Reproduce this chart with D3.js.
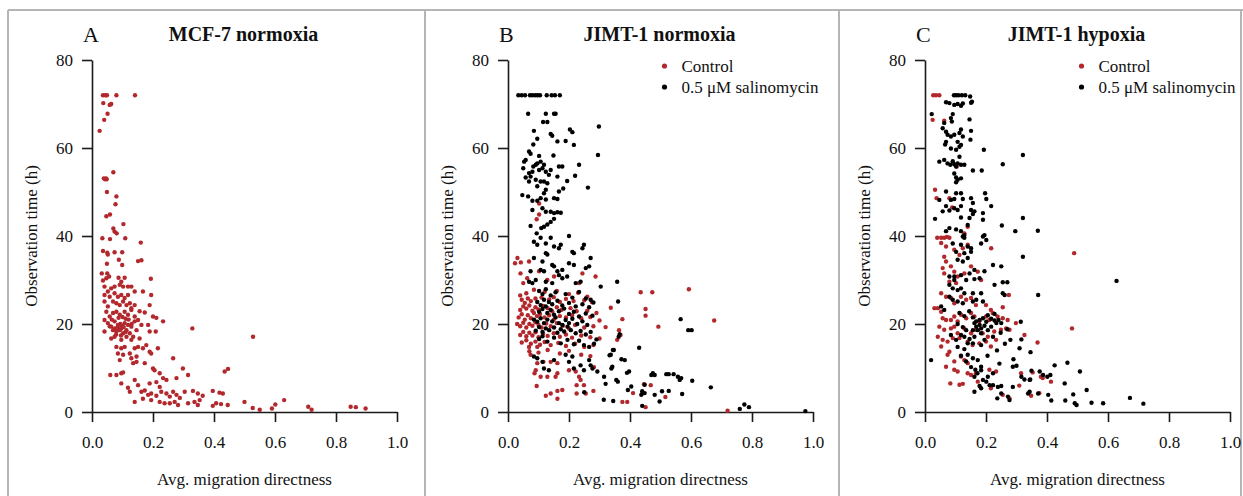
<!DOCTYPE html>
<html>
<head>
<meta charset="utf-8">
<script src="https://cdn.jsdelivr.net/npm/d3@7"></script>
<style>
  body { margin: 0; background: #fff; }
  svg text { font-family: "Liberation Serif", "Times New Roman", serif; fill: #111; }
</style>
</head>
<body>
<svg id="chart" width="1243" height="496"></svg>
<script>
/* ------------------------------------------------------------
   Observation time vs. migration directness, three panels
   ------------------------------------------------------------ */

const PANEL_LETTERS = ["A", "B", "C"];
const PANEL_TITLES = ["MCF-7 normoxia", "JIMT-1 normoxia", "JIMT-1 hypoxia"];
const LEGEND_LABELS = ["Control", "0.5 \u03bcM salinomycin"];
const X_TICKS = [0, 0.2, 0.4, 0.6, 0.8, 1.0];
const Y_TICKS = [0, 20, 40, 60, 80];
const X_LABEL = "Avg. migration directness";
const Y_LABEL = "Observation time (h)";

// [directness, hours]
const mcf7Control = [
  [0.036,72],[0.044,72],[0.049,72],[0.080,72],[0.141,72],
  [0.037,70.2],[0.058,69.8],[0.063,70],[0.051,67.8],[0.040,66.4],[0.025,63.9],
  [0.039,53.1],[0.043,52.9],[0.046,53.1],[0.048,52.9],[0.070,54.5],
  [0.049,50],[0.080,49],[0.077,47.2],[0.047,44.5],[0.059,44.9],[0.103,42.7],
  [0.070,41.7],[0.074,41],[0.081,40.6],[0.034,39.5],[0.059,39.3],[0.109,39.5],
  [0.160,38.5],[0.036,36.6],[0.050,36.2],[0.052,35.8],[0.074,36.3],[0.099,36.3],
  [0.088,34.6],[0.099,33.4],[0.049,33.7],[0.151,34.3],[0.162,34.5],
  [0.032,31.5],[0.050,31.5],[0.056,30.8],[0.036,29.9],[0.047,30.4],
  [0.087,30.5],[0.107,30.5],[0.096,29.6],[0.193,30.3],
  [0.041,28.5],[0.052,27.4],[0.063,28.1],[0.074,28.5],[0.091,28.9],[0.102,28.5],
  [0.118,28.5],[0.129,28.5],[0.140,27.4],[0.167,27.4],[0.194,26.6],
  [0.041,26.6],[0.058,26.2],[0.074,27.0],[0.085,26.2],[0.096,26.6],[0.107,25.9],[0.118,26.6],
  [0.041,25.1],[0.052,24.0],[0.069,25.1],[0.080,24.7],[0.091,24.3],[0.102,25.1],
  [0.113,24.3],[0.124,24.7],[0.129,23.6],[0.140,24.3],[0.189,24.3],
  [0.156,22.9],[0.173,22.6],[0.047,22.8],[0.058,21.7],[0.069,22.5],[0.080,22.8],
  [0.091,22.1],[0.107,22.8],[0.118,22.1],[0.129,23.2],[0.140,21.7],[0.200,21.7],
  [0.211,21.4],[0.233,20.6],
  [0.041,20.9],[0.052,20.2],[0.063,19.4],[0.074,20.6],[0.085,19.8],[0.096,19.0],
  [0.107,20.2],[0.113,18.6],[0.091,18.6],[0.102,17.9],[0.080,18.3],[0.069,18.6],
  [0.118,19.8],[0.129,19.4],[0.140,20.6],[0.151,20.9],[0.162,19.8],[0.146,18.6],
  [0.124,17.9],[0.135,17.1],[0.084,19.2],[0.093,20.0],[0.098,19.6],[0.089,18.9],
  [0.104,19.3],[0.110,21.2],[0.120,21.0],[0.130,20.0],[0.058,19.5],[0.065,21.0],
  [0.075,19.0],[0.087,21.4],[0.100,21.6],[0.079,17.6],[0.110,18.2],[0.095,17.4],
  [0.184,19.8],[0.189,18.3],[0.209,18.3],[0.041,18.3],[0.329,19.0],[0.528,17.1],
  [0.063,16.7],[0.074,17.1],[0.096,16.4],[0.113,17.1],[0.129,16.4],[0.156,16.7],
  [0.080,14.8],[0.096,14.5],[0.107,14.8],[0.140,14.5],[0.151,14.8],[0.167,14.5],
  [0.178,15.2],[0.216,14.5],
  [0.085,13.3],[0.102,13.0],[0.124,13.3],[0.146,12.6],[0.189,13.7],[0.194,13.3],
  [0.091,11.8],[0.129,12.2],[0.135,11.1],[0.146,11.4],[0.173,11.1],[0.266,12.2],
  [0.200,9.9],[0.205,9.5],[0.298,9.9],[0.435,9.2],[0.446,9.8],
  [0.060,8.4],[0.080,8.4],[0.096,8.8],[0.102,9.0],[0.222,8.8],[0.233,7.7],
  [0.244,7.3],[0.277,7.7],[0.315,8.4],
  [0.096,6.5],[0.140,7.3],[0.151,6.1],[0.189,6.5],[0.211,6.8],[0.222,5.7],
  [0.118,5.5],[0.124,4.6],[0.162,4.6],[0.173,4.9],[0.184,3.9],[0.194,4.2],
  [0.211,3.7],[0.227,4.6],[0.244,4.2],[0.255,3.5],[0.266,4.6],[0.277,3.9],
  [0.288,3.2],[0.304,4.6],[0.331,4.8],[0.347,4.2],[0.363,3.7],[0.396,4.8],
  [0.418,4.4],[0.429,4.2],
  [0.140,2.3],[0.167,3.0],[0.194,2.7],[0.222,2.3],[0.238,2.0],[0.255,2.0],
  [0.271,2.3],[0.282,1.6],[0.315,2.0],[0.336,2.3],[0.353,2.7],[0.347,1.6],
  [0.396,1.4],[0.407,2.0],[0.423,1.8],[0.445,1.6],[0.500,2.3],[0.527,0.9],
  [0.550,0.5],[0.590,0.8],[0.601,1.7],[0.630,2.7],[0.709,1.2],[0.720,0.5],
  [0.848,1.2],[0.865,1.1],[0.897,0.8]
];

const jimtNormControl = [
  [0.102,47.4],[0.102,44.9],[0.094,43.8],
  [0.031,35.0],[0.023,33.8],[0.042,34.0],[0.069,34.2],
  [0.041,31.5],[0.050,29.3],[0.063,30.4],[0.102,32.0],[0.129,30.0],[0.151,30.8],
  [0.244,31.5],[0.233,29.3],[0.287,30.8],
  [0.435,27.2],[0.473,27.2],[0.593,27.9],[0.451,23.4],[0.451,21.9],[0.493,19.4],
  [0.676,20.8],[0.375,21.1],[0.337,23.7],[0.364,18.6],[0.369,17.5],[0.358,16.4],[0.720,0.3],
  [0.087,8.8],[0.091,9.5],[0.129,8.0],[0.094,5.9],[0.124,3.7],[0.140,4.2],[0.162,4.8],
  [0.162,3.0],[0.178,5.0],[0.225,6.1],[0.225,4.2],[0.249,6.1],[0.255,4.2],[0.280,4.8],
  [0.233,8.0],[0.238,7.3],[0.282,10.2],[0.222,9.2],[0.200,9.5],[0.162,8.8],[0.156,8.0],
  [0.107,8.0],[0.096,11.1],[0.069,14.8],[0.096,14.8],[0.074,13.0],[0.116,11.4],
  [0.140,11.4],[0.162,11.1],[0.391,2.3],[0.375,2.3],[0.451,1.1],[0.446,6.3],
  [0.468,6.1],[0.440,4.2],[0.410,4.3],[0.516,3.4],
  [0.040,26.5],[0.060,27.0],[0.085,27.8],[0.120,27.3],[0.160,27.5],[0.200,26.8],[0.230,27.1],[0.260,26.2],
  [0.045,25.5],[0.055,24.8],[0.065,25.8],[0.075,25.2],[0.090,25.8],[0.110,26.0],[0.135,25.6],
  [0.150,26.1],[0.170,25.0],[0.190,25.7],[0.215,25.2],[0.250,25.4],[0.275,25.0],
  [0.040,23.2],[0.050,24.0],[0.060,23.5],[0.070,24.2],[0.080,23.0],[0.090,23.8],[0.100,23.3],
  [0.115,24.1],[0.130,23.6],[0.145,22.9],[0.160,23.8],[0.175,23.2],[0.205,23.6],[0.225,22.9],
  [0.260,23.0],[0.290,22.5],
  [0.035,21.5],[0.045,22.2],[0.055,21.0],[0.065,22.0],[0.075,21.3],[0.085,22.5],[0.095,21.8],
  [0.105,22.3],[0.120,21.5],[0.135,22.0],[0.150,21.0],[0.170,21.8],[0.190,21.5],[0.210,22.0],
  [0.240,21.3],[0.270,21.6],[0.300,20.8],
  [0.030,20.0],[0.040,19.5],[0.050,20.3],[0.060,19.2],[0.070,20.0],[0.080,19.6],[0.090,20.4],
  [0.100,19.8],[0.110,19.2],[0.125,20.1],[0.140,19.5],[0.160,20.2],[0.180,19.6],[0.200,19.0],
  [0.220,19.8],[0.250,19.2],[0.280,19.5],[0.320,19.3],
  [0.040,17.5],[0.050,18.2],[0.060,17.2],[0.070,18.0],[0.080,17.4],[0.090,18.1],[0.100,17.0],
  [0.115,17.8],[0.130,17.3],[0.150,17.9],[0.170,17.1],[0.190,17.6],[0.210,16.9],[0.240,17.4],
  [0.270,17.0],[0.300,16.7],
  [0.045,15.8],[0.060,16.3],[0.075,15.5],[0.090,16.0],[0.105,15.3],[0.120,15.9],[0.140,15.2],
  [0.165,15.7],[0.190,15.0],[0.220,15.5],[0.250,14.8],[0.280,15.2],
  [0.070,13.8],[0.100,13.5],[0.130,14.1],[0.170,13.3],[0.200,13.9],[0.240,13.0],[0.270,12.7]
];

const jimtNormSalino = [
  [0.034,72],[0.045,72],[0.056,72],[0.072,72],[0.080,72],[0.089,72],[0.097,72],
  [0.105,72],[0.127,72],[0.143,72],[0.154,72],[0.170,72],
  [0.066,67.8],[0.124,67.8],[0.151,67.8],[0.156,67.8],[0.115,65.9],[0.129,65.9],
  [0.085,63.9],[0.140,63.2],[0.145,62.8],[0.203,64.2],[0.211,63.6],[0.298,64.9],
  [0.096,62.1],[0.083,60.8],[0.162,61.5],[0.189,61.6],[0.216,60.7],[0.295,58.4],
  [0.069,59.2],[0.074,58.7],[0.102,58.2],[0.149,58.3],
  [0.058,57.3],[0.053,56.9],[0.091,56.2],[0.096,56.5],[0.107,56.9],[0.118,56.2],
  [0.083,55.8],[0.167,55.8],[0.178,55.8],[0.233,56.2],
  [0.050,55.4],[0.069,54.3],[0.080,54.6],[0.102,55.0],[0.113,55.4],[0.124,54.6],
  [0.140,55.0],[0.134,53.9],[0.162,53.5],[0.220,53.7],[0.194,52.5],
  [0.058,53.3],[0.074,53.5],[0.091,52.8],[0.107,52.4],[0.129,52.0],[0.069,52.4],
  [0.096,51.3],[0.118,52.4],[0.124,50.5],[0.262,51.0],
  [0.047,49.3],[0.066,49.0],[0.080,48.0],[0.096,48.0],[0.107,48.6],[0.118,49.7],
  [0.124,48.3],[0.151,48.6],[0.162,48.4],[0.167,50.1],[0.181,50.8],
  [0.080,45.9],[0.113,46.3],[0.124,45.5],[0.140,45.5],[0.151,45.2],[0.162,45.4],[0.173,45.3],
  [0.074,42.3],[0.109,41.8],[0.118,42.1],[0.129,42.6],[0.140,43.2],[0.151,43.9],
  [0.094,40.6],[0.107,39.6],[0.140,39.6],[0.200,40.0],
  [0.085,38.7],[0.096,38.0],[0.124,38.3],[0.151,37.6],[0.167,37.2],[0.173,38.0],
  [0.211,36.4],[0.216,36.1],[0.249,38.0],[0.244,37.2],[0.271,35.0],[0.124,36.1],
  [0.129,35.8],[0.085,35.0],[0.113,34.2],[0.145,33.4],[0.151,33.1],[0.178,32.3],
  [0.200,33.8],[0.216,33.4],[0.255,32.7],[0.266,33.1],[0.074,32.0],[0.107,32.3],
  [0.118,32.0],[0.162,32.0],[0.167,31.1],[0.178,30.4],[0.194,30.8],[0.222,29.3],
  [0.238,29.6],[0.304,28.5],[0.358,29.6],[0.091,30.0],[0.124,29.6],[0.145,29.3],
  [0.069,29.6],[0.080,29.3],
  [0.361,25.1],[0.566,21.1],[0.591,18.6],[0.602,18.6],[0.430,14.6],[0.366,17.7],
  [0.363,17.1],[0.344,14.1],[0.333,12.9],[0.339,9.9],[0.355,7.3],[0.360,6.9],
  [0.372,12.0],[0.383,11.8],[0.390,8.9],[0.397,9.2],[0.393,5.0],[0.404,5.8],
  [0.437,3.9],[0.440,4.7],[0.448,4.3],[0.448,6.2],[0.440,1.4],[0.470,8.4],
  [0.475,8.8],[0.481,8.4],[0.481,3.9],[0.497,2.4],[0.505,4.7],[0.519,8.6],
  [0.527,4.8],[0.527,8.6],[0.543,8.6],[0.557,8.0],[0.563,7.3],[0.568,7.7],
  [0.571,4.1],[0.604,7.1],[0.665,5.6],[0.760,0.7],[0.775,1.7],[0.790,1.1],
  [0.975,0.2],[0.314,2.8],[0.345,2.5],
  [0.085,12.6],[0.096,12.2],[0.113,11.4],[0.118,9.9],[0.134,9.5],[0.151,11.8],
  [0.189,13.0],[0.200,11.4],[0.211,12.6],[0.216,9.9],[0.238,10.6],[0.249,9.5],
  [0.266,11.8],[0.271,10.6],[0.277,9.9],[0.293,9.2],[0.315,8.0],[0.337,13.0],
  [0.342,10.3],[0.347,14.1],[0.320,6.4],[0.250,4.5],
  [0.102,27.5],[0.113,26.8],[0.124,27.9],[0.140,26.5],[0.156,27.2],[0.189,26.8],
  [0.211,26.0],[0.233,27.3],[0.255,25.8],[0.271,25.5],
  [0.096,25.0],[0.107,24.3],[0.118,25.5],[0.124,24.0],[0.134,25.0],[0.145,24.5],
  [0.162,25.3],[0.178,24.2],[0.200,24.8],[0.222,24.0],[0.244,24.5],[0.266,23.8],[0.280,24.9],
  [0.102,22.8],[0.113,23.4],[0.129,22.5],[0.140,23.2],[0.151,22.1],[0.167,22.9],
  [0.184,23.5],[0.200,22.3],[0.216,22.8],[0.233,21.7],[0.255,22.4],[0.277,21.9],
  [0.085,21.0],[0.096,20.5],[0.107,21.3],[0.118,20.2],[0.129,21.0],[0.145,20.6],
  [0.156,21.5],[0.167,20.2],[0.178,19.8],[0.189,20.9],[0.200,20.2],[0.211,21.2],
  [0.227,20.0],[0.244,20.6],[0.260,19.8],
  [0.091,18.5],[0.102,19.3],[0.113,18.2],[0.124,19.0],[0.135,18.6],[0.151,19.2],
  [0.162,18.0],[0.173,18.8],[0.184,18.3],[0.195,19.4],[0.206,18.6],[0.222,17.9],
  [0.238,18.4],[0.255,17.6],[0.271,18.2],[0.290,16.5],
  [0.102,16.6],[0.113,17.2],[0.129,16.0],[0.151,16.9],[0.173,15.6],[0.195,16.4],
  [0.216,15.4],[0.233,16.2],[0.249,15.2],[0.266,14.8],[0.282,15.5]
];

const jimtHypoControl = [
  [0.027,72],[0.036,72],[0.047,72],[0.025,66.4],[0.063,66.2],[0.104,55.8],
  [0.033,50.5],[0.038,48.6],[0.080,48.6],[0.089,46.5],[0.140,42.1],[0.129,40.6],
  [0.040,39.6],[0.053,39.6],[0.063,39.6],[0.072,39.8],[0.080,39.6],
  [0.053,38.4],[0.069,37.6],[0.096,36.9],[0.113,35.7],[0.124,37.2],[0.140,38.0],
  [0.063,35.3],[0.069,34.2],[0.058,32.7],[0.063,31.5],[0.085,33.1],[0.096,31.9],
  [0.107,30.8],[0.129,31.5],[0.151,33.1],[0.173,31.9],[0.184,30.0],[0.080,29.6],
  [0.102,29.3],[0.053,27.0],[0.069,26.2],[0.085,25.9],[0.096,24.7],[0.118,26.2],
  [0.135,25.5],[0.151,25.9],[0.167,24.3],[0.200,24.3],[0.216,23.2],[0.255,23.8],
  [0.031,23.6],[0.042,23.6],[0.053,22.8],[0.058,21.3],[0.069,20.9],[0.085,20.9],
  [0.096,21.7],[0.107,20.6],[0.118,22.1],[0.135,21.3],[0.151,22.5],[0.162,21.7],
  [0.178,20.6],[0.200,21.7],[0.211,20.9],[0.222,22.5],[0.238,21.7],[0.255,21.3],
  [0.271,20.9],[0.277,18.7],[0.298,20.2],[0.047,19.4],[0.063,18.7],[0.085,19.0],
  [0.096,19.4],[0.107,17.9],[0.129,19.0],[0.151,17.9],[0.167,18.7],[0.189,17.9],
  [0.206,17.1],[0.227,18.3],[0.249,18.7],[0.266,19.0],[0.042,17.1],[0.058,16.4],
  [0.074,16.0],[0.091,16.8],[0.113,16.8],[0.140,16.0],[0.156,15.2],[0.178,15.6],
  [0.200,16.0],[0.216,14.9],[0.233,16.4],[0.326,17.5],[0.369,15.8],[0.053,14.9],
  [0.080,13.7],[0.074,13.0],[0.069,10.3],[0.096,9.6],[0.107,9.2],[0.140,8.8],
  [0.151,8.4],[0.096,11.5],[0.118,12.6],[0.129,11.8],[0.140,11.1],[0.211,9.6],
  [0.233,9.2],[0.083,6.5],[0.113,6.2],[0.124,6.4],[0.167,8.8],[0.173,6.9],
  [0.216,5.4],[0.255,3.9],[0.277,3.1],[0.309,6.0],[0.348,3.7],[0.375,4.3],
  [0.380,8.0],[0.386,7.7],[0.413,6.9],[0.315,8.8],[0.353,9.0],
  [0.489,36.1],[0.482,19.0],[0.217,37.2],[0.275,26.6]
];

const jimtHypoSalino = [
  [0.095,72],[0.102,72],[0.110,72],[0.121,72],[0.132,72],[0.148,71.7],[0.154,70.5],
  [0.069,70.4],[0.080,70.2],[0.096,69.8],[0.107,70],[0.118,69.6],[0.124,70.1],[0.151,70.3],
  [0.022,67.7],[0.091,67.7],[0.085,66.8],[0.088,66.0],[0.063,65.7],[0.146,66.5],
  [0.151,63.9],[0.149,61.9],
  [0.058,64.5],[0.069,63.7],[0.074,63.0],[0.085,62.6],[0.096,63.0],[0.113,63.4],
  [0.118,64.2],[0.124,62.6],[0.107,61.4],[0.118,60.7],[0.069,61.4],[0.066,60.8],
  [0.085,59.9],[0.102,59.6],[0.113,60.3],[0.193,59.6],[0.321,58.4],[0.255,56.3],
  [0.047,56.9],[0.063,57.3],[0.074,56.5],[0.083,56.2],[0.091,57.0],[0.096,56.3],
  [0.107,56.5],[0.113,58.0],[0.118,56.2],[0.129,56.2],[0.102,55.8],[0.157,54.9],[0.186,54.9],
  [0.096,54.2],[0.102,53.3],[0.107,52.8],[0.118,53.1],[0.102,52.2],
  [0.047,48.2],[0.069,50.1],[0.085,48.2],[0.096,48.4],[0.102,49.7],[0.118,49.7],
  [0.124,48.4],[0.151,48.6],[0.157,47.5],[0.197,49.7],[0.201,48.4],[0.069,46.8],
  [0.080,45.8],[0.096,46.3],[0.107,45.9],[0.118,46.8],[0.151,45.9],[0.162,45.6],
  [0.217,46.8],[0.033,43.9],[0.058,45.6],[0.118,44.2],[0.146,44.1],[0.157,45.0],
  [0.190,45.2],[0.190,43.7],[0.321,44.1],[0.252,42.4],[0.296,41.1],[0.370,41.2],[0.140,42.5],
  [0.069,41.1],[0.080,41.8],[0.102,41.5],[0.118,41.1],[0.124,39.9],[0.129,39.6],[0.190,39.9],
  [0.129,40.2],[0.195,40.2],[0.201,39.1],[0.184,38.3],
  [0.091,38.3],[0.118,38.0],[0.140,37.6],[0.151,37.2],[0.102,36.4],[0.129,36.1],
  [0.151,36.4],[0.321,35.3],[0.107,34.6],[0.124,34.2],[0.140,35.0],[0.223,33.4],
  [0.250,33.1],[0.195,32.0],[0.162,32.3],[0.146,31.5],[0.118,31.1],[0.096,30.8],
  [0.080,30.8],[0.096,30.0],[0.135,30.0],[0.162,30.2],[0.179,30.4],[0.228,28.9],
  [0.255,29.5],[0.270,29.5],[0.371,26.6],[0.080,28.9],[0.091,28.1],[0.107,27.7],
  [0.118,28.1],[0.129,27.0],[0.157,27.0],[0.184,27.0],[0.080,26.2],[0.091,25.5],
  [0.107,25.1],[0.124,24.7],[0.157,25.1],[0.168,25.5],[0.190,25.1],[0.053,24.0],
  [0.063,23.2],[0.020,11.8],[0.628,29.8],
  [0.255,27.0],[0.261,26.6],[0.241,20.9],[0.234,20.2],[0.228,20.8],[0.314,20.5],
  [0.206,18.6],[0.184,19.0],[0.168,19.4],[0.157,18.6],[0.135,18.6],[0.162,20.2],
  [0.179,20.9],[0.190,21.3],[0.201,20.5],[0.217,19.4],[0.250,20.2],[0.316,16.5],
  [0.310,14.5],[0.346,13.6],[0.223,17.1],[0.195,16.4],[0.184,15.2],[0.140,15.6],
  [0.129,17.1],[0.118,17.5],[0.102,16.4],[0.085,17.5],[0.140,13.0],[0.157,12.2],
  [0.173,11.8],[0.184,10.3],[0.244,11.0],[0.288,10.3],[0.316,8.0],[0.343,7.3],
  [0.376,9.2],[0.387,8.4],[0.425,10.6],[0.467,11.2],[0.508,9.2],[0.458,6.5],
  [0.223,8.8],[0.206,8.0],[0.190,7.3],[0.212,6.1],[0.223,6.1],[0.239,5.7],
  [0.250,5.9],[0.179,5.9],[0.184,5.4],[0.162,4.6],[0.237,3.1],[0.272,3.5],
  [0.277,2.7],[0.288,5.7],[0.338,4.2],[0.343,4.6],[0.371,4.2],[0.404,3.9],
  [0.414,2.6],[0.460,2.6],[0.486,4.0],[0.491,2.0],[0.497,1.6],[0.546,2.1],
  [0.584,2.0],[0.530,5.0],[0.349,9.4],[0.250,4.2],[0.201,6.9],[0.162,8.0],
  [0.184,9.5],[0.672,3.2],[0.716,1.9],[0.326,7.4],[0.345,7.4],[0.401,8.0],[0.411,8.4],
  [0.113,22.5],[0.129,21.8],[0.145,22.9],[0.157,21.5],[0.168,20.6],[0.179,19.8],
  [0.195,19.6],[0.173,18.6],[0.184,17.9],[0.162,17.1],[0.206,22.0],[0.217,21.2],
  [0.228,22.3],[0.107,20.0],[0.124,19.3],[0.146,16.6],[0.157,15.6],[0.107,14.8],
  [0.129,14.3],[0.118,12.8],[0.135,11.5],[0.151,10.2],[0.165,9.6],[0.172,8.8],
  [0.205,12.8],[0.236,14.0],[0.262,15.5],[0.280,16.4],[0.248,18.0],[0.270,18.8],
  [0.290,12.0],[0.300,10.5]
];

const RED = "#b2282c";
const BLACK = "#000";

// layout of the three panels
const PLOT = { top: 60, height: 352, width: 305 };
const PANELS = [
  { left: 92,  series: [{ data: mcf7Control, color: RED }], legend: false },
  { left: 508, series: [{ data: jimtNormControl, color: RED }, { data: jimtNormSalino, color: BLACK }], legend: true },
  { left: 925, series: [{ data: jimtHypoControl, color: RED }, { data: jimtHypoSalino, color: BLACK }], legend: true },
];

const svg = d3.select("#chart");

/* ---------- grey frames around the panels ---------- */
const frame = svg.append("g").attr("stroke", "#b5b5b5").attr("stroke-width", 2);
frame.append("line").attr("x1", 8).attr("x2", 1243).attr("y1", 10).attr("y2", 10);
[8, 425, 839, 1241].forEach((fx) => {
  frame.append("line").attr("x1", fx).attr("x2", fx).attr("y1", 10).attr("y2", 496);
});

PANELS.forEach((p, i) => drawPanel(p, i));

function drawPanel(p, i) {
  const g = svg.append("g").attr("transform", `translate(${p.left},${PLOT.top})`);

  const x = d3.scaleLinear().domain([0, 1]).range([0, PLOT.width]);
  const y = d3.scaleLinear().domain([0, 80]).range([PLOT.height, 0]);

  // R-style axes: ticks outside, no extra domain end caps
  const xAxis = g.append("g")
    .attr("transform", `translate(0,${PLOT.height})`)
    .call(d3.axisBottom(x).tickValues(X_TICKS).tickFormat(d3.format(".1f"))
      .tickSize(10).tickSizeOuter(0).tickPadding(14));

  const yAxis = g.append("g")
    .call(d3.axisLeft(y).tickValues(Y_TICKS).tickSize(10).tickSizeOuter(0).tickPadding(9));

  [xAxis, yAxis].forEach((a) => {
    a.select(".domain").attr("stroke", "#1a1a1a").attr("stroke-width", 1.6);
    a.selectAll(".tick line").attr("stroke", "#1a1a1a").attr("stroke-width", 1.6);
    a.selectAll(".tick text")
      .attr("font-family", "Liberation Serif, serif")
      .attr("font-size", 17)
      .attr("fill", "#222");
  });

  // axis titles
  g.append("text")
    .attr("x", PLOT.width / 2)
    .attr("y", PLOT.height + 73)
    .attr("text-anchor", "middle")
    .attr("font-size", 17)
    .text(X_LABEL);

  g.append("text")
    .attr("transform", "rotate(-90)")
    .attr("x", -PLOT.height / 2)
    .attr("y", -55)
    .attr("text-anchor", "middle")
    .attr("font-size", 17)
    .text(Y_LABEL);

  // panel letter + title
  g.append("text")
    .attr("x", -9)
    .attr("y", -18)
    .attr("font-size", 22)
    .text(PANEL_LETTERS[i]);

  g.append("text")
    .attr("x", PLOT.width / 2 - 1)
    .attr("y", -19)
    .attr("text-anchor", "middle")
    .attr("font-size", 20)
    .attr("font-weight", "bold")
    .text(PANEL_TITLES[i]);

  // points
  p.series.forEach((s) => {
    g.append("g")
      .selectAll("circle")
      .data(s.data)
      .join("circle")
      .attr("cx", (d) => x(d[0]))
      .attr("cy", (d) => y(d[1]))
      .attr("r", 2.2)
      .attr("fill", s.color);
  });

  // legend
  if (p.legend) {
    const lg = g.append("g").attr("transform", `translate(${PLOT.width / 2 + 4},6)`);
    [RED, BLACK].forEach((c, k) => {
      lg.append("circle").attr("cx", 0).attr("cy", k * 21).attr("r", 2.6).attr("fill", c);
      lg.append("text")
        .attr("x", 17)
        .attr("y", k * 21 + 6)
        .attr("font-size", 17)
        .text(LEGEND_LABELS[k]);
    });
  }
}
</script>
</body>
</html>
